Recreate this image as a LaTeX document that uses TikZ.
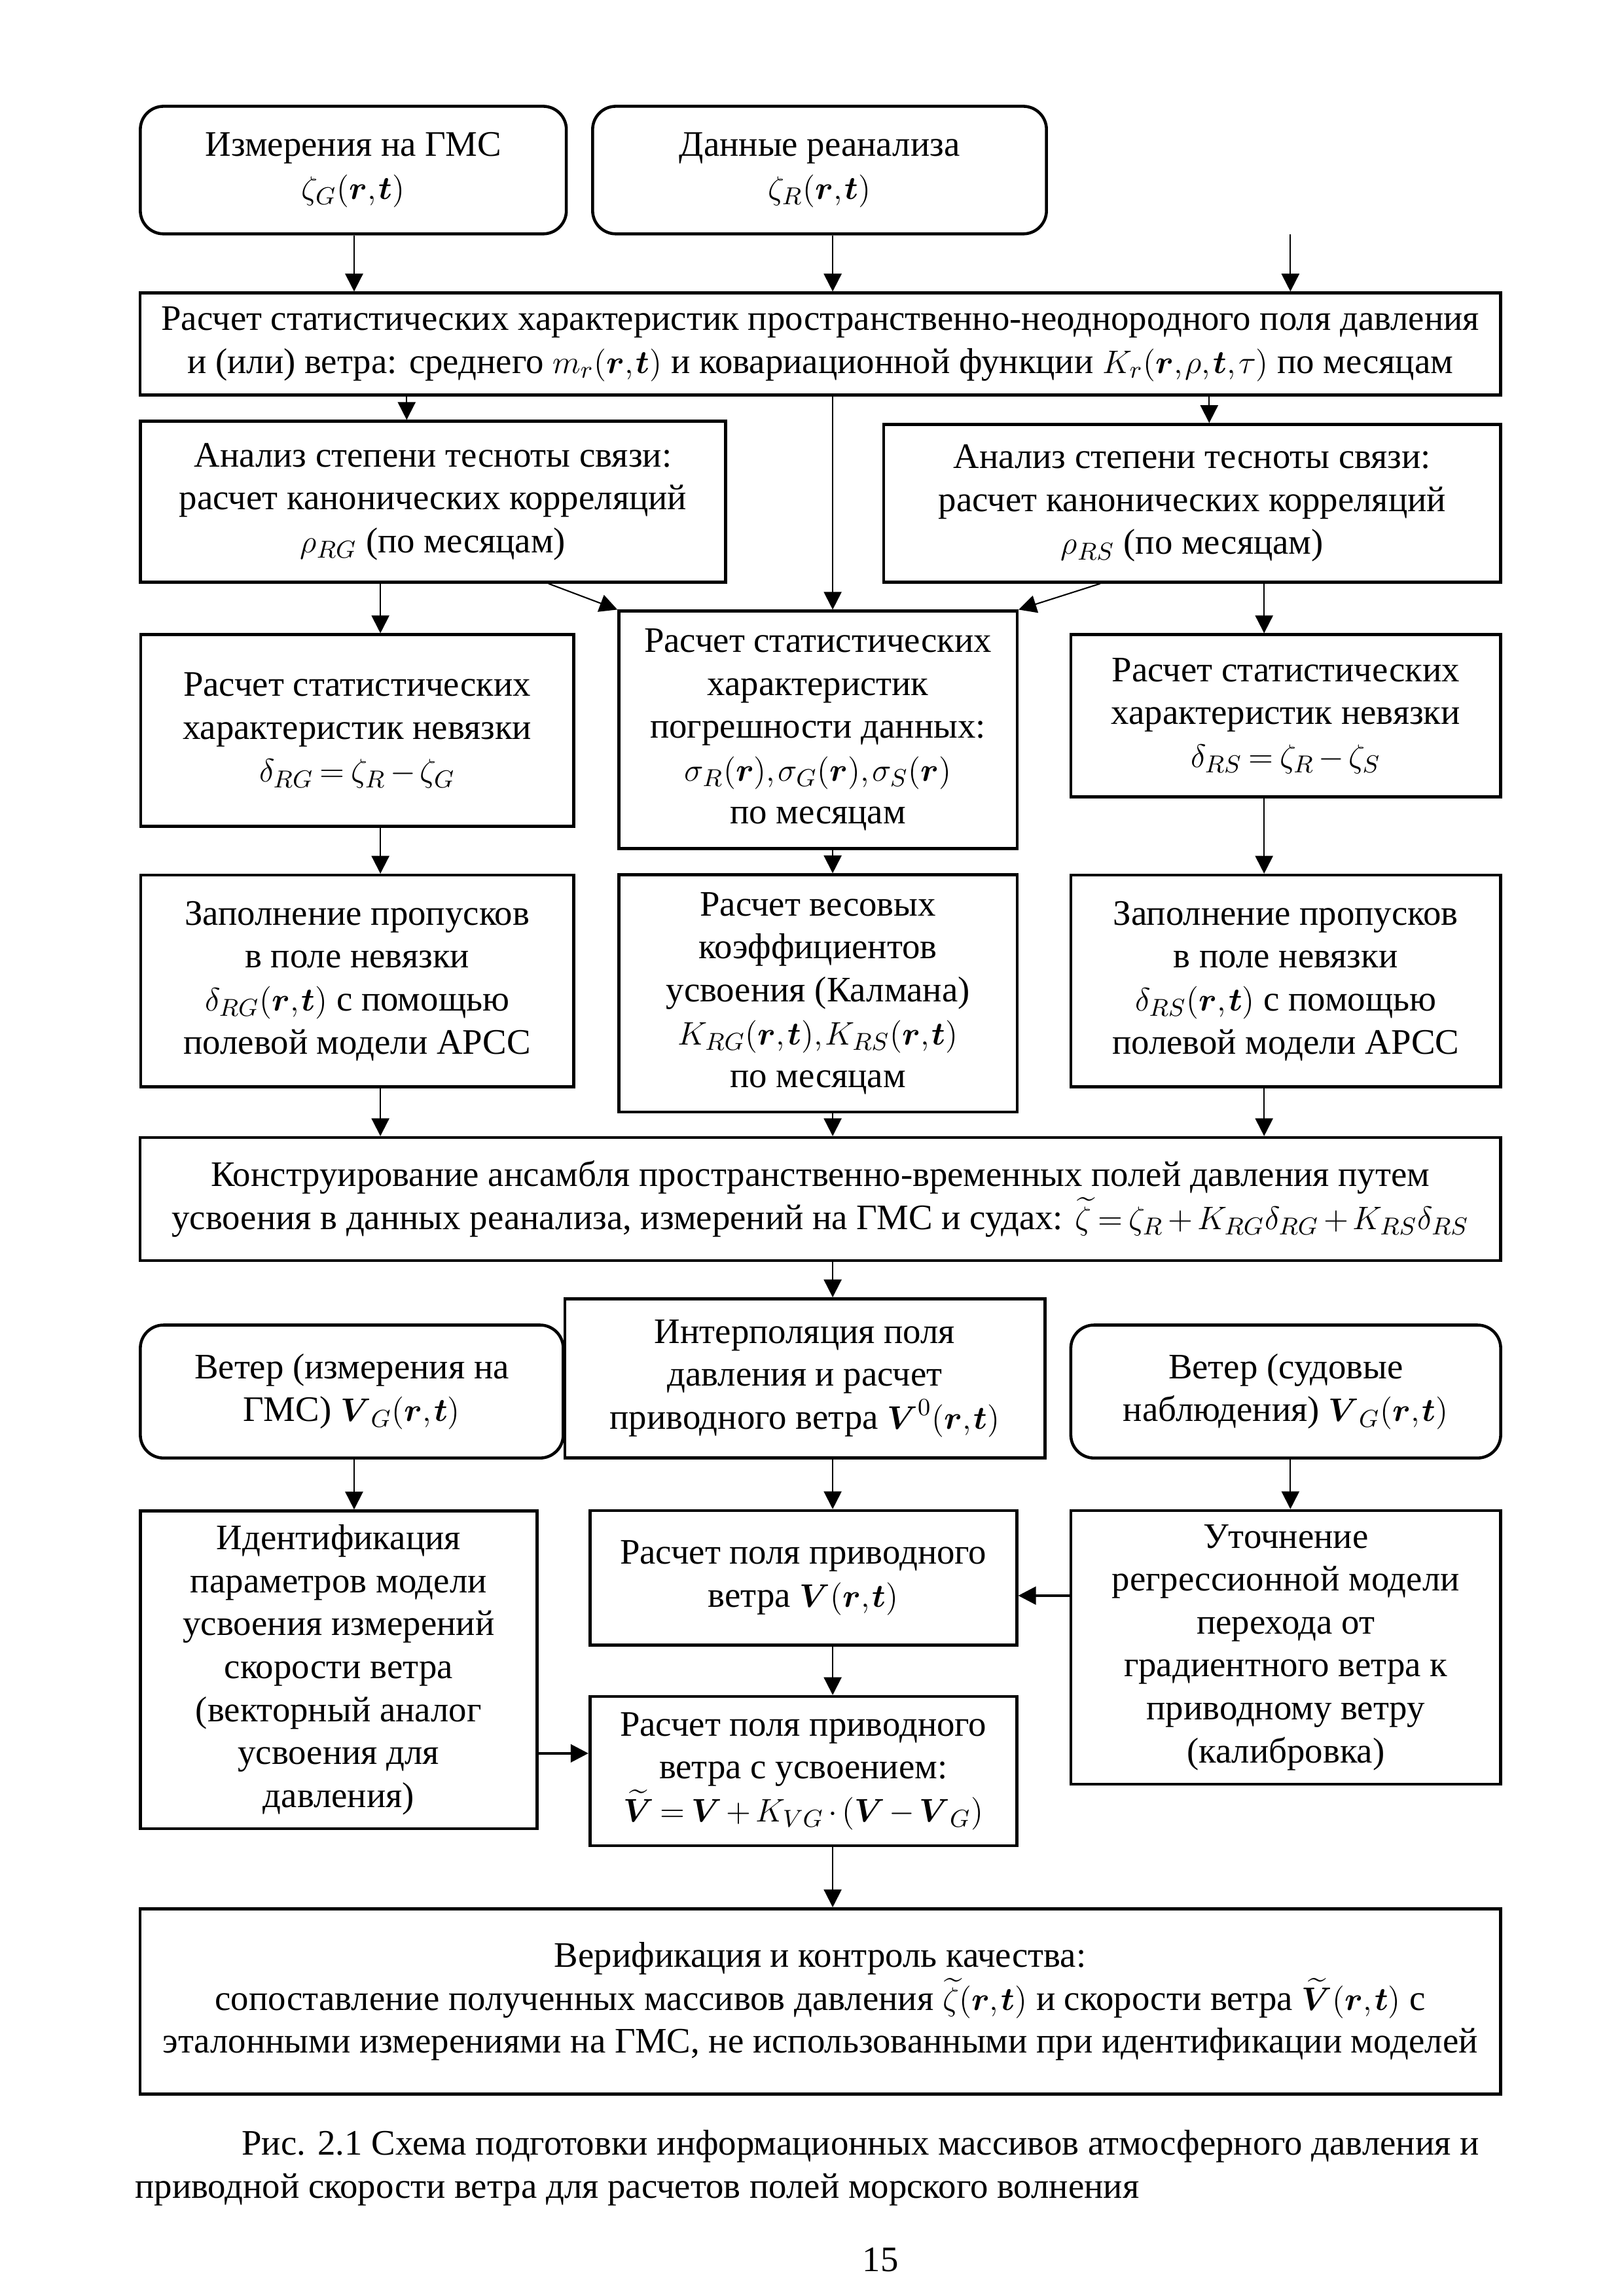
\documentclass[tikz,border=0pt]{standalone}
\usepackage{amsmath}
\usepackage{fontspec}
\setmainfont{Liberation Serif}
\usetikzlibrary{arrows.meta,positioning,calc}

\newcommand{\rv}{\boldsymbol{r}}
\newcommand{\tv}{\boldsymbol{t}}
\newcommand{\Vv}{\boldsymbol{V}}
\newcommand{\tightmath}{\thickmuskip=3.5mu plus 1mu\medmuskip=2.5mu\thinmuskip=1.5mu}

\begin{document}
\begin{tikzpicture}[
    box/.style={draw, line width=1.1pt, align=center, inner sep=2pt,
      font=\fontsize{13.2}{15.8}\selectfont\tightmath},
    rbox/.style={box, rounded corners=0.3cm},
    arr/.style={-{Triangle[length=2.3mm,width=2.3mm]}, line width=0.5pt},
    harr/.style={arr, line width=1pt}
  ]
  \useasboundingbox (0,0) rectangle (21,-29.7);
  % columns of the vertical connectors
  \coordinate (cA) at (4.58,0);
  \coordinate (cB) at (5.26,0);
  \coordinate (cC) at (4.92,0);
  \coordinate (cM) at (10.77,0);
  \coordinate (cR) at (15.64,0);
  \coordinate (cS) at (16.35,0);
  \coordinate (cT) at (16.69,0);

  % sources
  \node[rbox, minimum width=5.51cm, minimum height=1.65cm] (gms) at (4.57,-2.20)
    {Измерения на ГМС\\ $\zeta_G(\rv,\tv)$};
  \node[rbox, minimum width=5.87cm, minimum height=1.65cm] (rean) at (10.60,-2.20)
    {Данные реанализа\\ $\zeta_R(\rv,\tv)$};
  \coordinate (inp) at (16.69,-3.03);

  \node[box, minimum width=17.6cm, minimum height=1.32cm] (stat) at (10.61,-4.45)
    {Расчет статистических характеристик пространственно-неоднородного поля давления\\
     и (или) ветра: среднего $m_r(\rv,\tv)$ и ковариационной функции $K_r(\rv,\rho,\tv,\tau)$ по месяцам};

  \node[box, minimum width=7.57cm, minimum height=2.08cm] (corrg) at (5.60,-6.49)
    {Анализ степени тесноты связи:\\ расчет канонических корреляций\\ $\rho_{RG}$ (по месяцам)};
  \node[box, minimum width=7.98cm, minimum height=2.04cm] (corrs) at (15.42,-6.51)
    {Анализ степени тесноты связи:\\ расчет канонических корреляций\\ $\rho_{RS}$ (по месяцам)};

  \node[box, minimum width=5.60cm, minimum height=2.48cm] (nevg) at (4.62,-9.45)
    {Расчет статистических\\ характеристик невязки\\ $\delta_{RG}=\zeta_R-\zeta_G$};
  \node[box, minimum width=5.15cm, minimum height=3.07cm] (err) at (10.58,-9.44)
    {Расчет статистических\\ характеристик\\ погрешности данных:\\
     $\sigma_R(\rv),\sigma_G(\rv),\sigma_S(\rv)$\\ по месяцам};
  \node[box, minimum width=5.56cm, minimum height=2.10cm] (nevs) at (16.63,-9.26)
    {Расчет статистических\\ характеристик невязки\\ $\delta_{RS}=\zeta_R-\zeta_S$};

  \node[box, minimum width=5.60cm, minimum height=2.74cm] (fillg) at (4.62,-12.69)
    {Заполнение пропусков\\ в поле невязки\\ $\delta_{RG}(\rv,\tv)$ с помощью\\ полевой модели АРСС};
  \node[box, minimum width=5.15cm, minimum height=3.07cm] (kalm) at (10.58,-12.85)
    {Расчет весовых\\ коэффициентов\\ усвоения (Калмана)\\
     $K_{RG}(\rv,\tv),K_{RS}(\rv,\tv)$\\ по месяцам};
  \node[box, minimum width=5.56cm, minimum height=2.74cm] (fills) at (16.63,-12.69)
    {Заполнение пропусков\\ в поле невязки\\ $\delta_{RS}(\rv,\tv)$ с помощью\\ полевой модели АРСС};

  \node[box, minimum width=17.6cm, minimum height=1.59cm] (ens) at (10.61,-15.51)
    {Конструирование ансамбля пространственно-временных полей давления путем\\
     усвоения в данных реанализа, измерений на ГМС и судах:
     $\widetilde{\zeta}=\zeta_R+K_{RG}\delta_{RG}+K_{RS}\delta_{RS}$};

  % wind
  \node[rbox, minimum width=5.47cm, minimum height=1.72cm] (windg) at (4.55,-18.00)
    {Ветер (измерения на\\ ГМС) $\Vv_G(\rv,\tv)$};
  \node[box, minimum width=6.21cm, minimum height=2.06cm] (interp) at (10.41,-17.83)
    {Интерполяция поля\\ давления и расчет\\ приводного ветра $\Vv^0(\rv,\tv)$};
  \node[rbox, minimum width=5.56cm, minimum height=1.72cm] (winds) at (16.63,-18.00)
    {Ветер (судовые\\ наблюдения) $\Vv_G(\rv,\tv)$};

  \node[box, minimum width=5.13cm, minimum height=4.11cm] (ident) at (4.38,-21.60)
    {Идентификация\\ параметров модели\\ усвоения измерений\\ скорости ветра\\
     (векторный аналог\\ усвоения для\\ давления)};
  \node[box, minimum width=5.52cm, minimum height=1.74cm] (vfield) at (10.39,-20.41)
    {Расчет поля приводного\\ ветра $\Vv(\rv,\tv)$};
  \node[box, minimum width=5.56cm, minimum height=3.54cm] (calib) at (16.63,-21.31)
    {Уточнение\\ регрессионной модели\\ перехода от\\ градиентного ветра к\\
     приводному ветру\\ (калибровка)};
  \node[box, minimum width=5.52cm, minimum height=1.93cm] (vassim) at (10.39,-22.91)
    {Расчет поля приводного\\ ветра с усвоением:\\
     $\widetilde{\Vv}=\Vv+K_{VG}\cdot(\Vv-\Vv_G)$};

  \node[box, minimum width=17.6cm, minimum height=2.40cm] (verif) at (10.61,-25.89)
    {Верификация и контроль качества:\\
     сопоставление полученных массивов давления $\widetilde{\zeta}(\rv,\tv)$ и скорости ветра
     $\widetilde{\Vv}(\rv,\tv)$ с\\
     эталонными измерениями на ГМС, не использованными при идентификации моделей};

  % caption and page number
  \node[align=left, anchor=north west, inner sep=0pt,
    font=\fontsize{13.2}{15.8}\selectfont] (capt) at (1.74,-27.55)
    {\hspace*{1.38cm}Рис. 2.1 Схема подготовки информационных массивов атмосферного давления и\\
     приводной скорости ветра для расчетов полей морского волнения};
  \node[font=\fontsize{13.2}{15.8}\selectfont] (pnum) at (11.39,-29.23) {15};

  % connectors
  \draw[arr] (gms.south -| cA) -- (stat.north -| cA);
  \draw[arr] (rean.south -| cM) -- (stat.north -| cM);
  \draw[arr] (inp) -- (inp |- stat.north);
  \draw[arr] (stat.south -| cB) -- (corrg.north -| cB);
  \draw[arr] (stat.south -| cR) -- (corrs.north -| cR);
  \draw[arr] (stat.south -| cM) -- (err.north -| cM);
  \draw[arr] ($(corrg.south east)+(-2.31,0)$) -- (err.north west);
  \draw[arr] ($(corrs.south west)+(2.82,0)$) -- (err.north east);
  \draw[arr] (corrg.south -| cC) -- (nevg.north -| cC);
  \draw[arr] (corrs.south -| cS) -- (nevs.north -| cS);
  \draw[arr] (nevg.south -| cC) -- (fillg.north -| cC);
  \draw[arr] (err.south -| cM) -- (kalm.north -| cM);
  \draw[arr] (nevs.south -| cS) -- (fills.north -| cS);
  \draw[arr] (fillg.south -| cC) -- (ens.north -| cC);
  \draw[arr] (kalm.south -| cM) -- (ens.north -| cM);
  \draw[arr] (fills.south -| cS) -- (ens.north -| cS);
  \draw[arr] (ens.south -| cM) -- (interp.north -| cM);
  \draw[arr] (windg.south -| cA) -- (ident.north -| cA);
  \draw[arr] (interp.south -| cM) -- (vfield.north -| cM);
  \draw[arr] (winds.south -| cT) -- (calib.north -| cT);
  \coordinate (rA) at (0,-20.64);
  \coordinate (rB) at (0,-22.68);
  \draw[harr] (calib.west |- rA) -- (vfield.east |- rA);
  \draw[harr] (ident.east |- rB) -- (vassim.west |- rB);
  \draw[arr] (vfield.south -| cM) -- (vassim.north -| cM);
  \draw[arr] (vassim.south -| cM) -- (verif.north -| cM);
\end{tikzpicture}
\end{document}
